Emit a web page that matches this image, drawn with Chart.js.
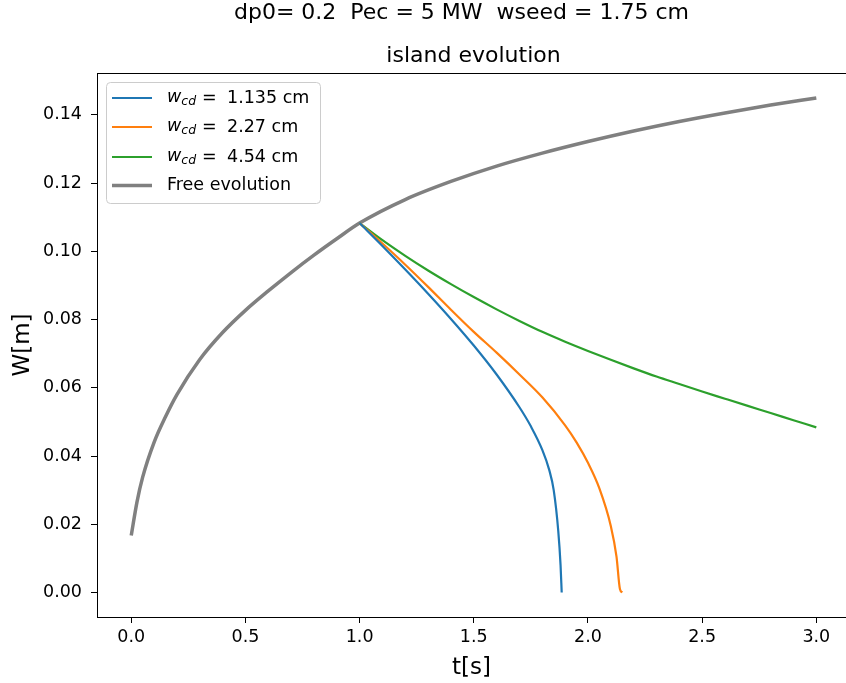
<!DOCTYPE html>
<html>
<head>
<meta charset="utf-8">
<script src="https://cdn.jsdelivr.net/npm/chart.js@4"></script>
<style>
  html, body { margin: 0; padding: 0; background: #fff; }
  #wrap { width: 846px; height: 683px; }
</style>
</head>
<body>
<div id="wrap"><canvas id="myChart" width="846" height="683"></canvas></div>
<script>
// data
const tFree = [0, 0.025, 0.05, 0.1, 0.15, 0.2, 0.3, 0.4, 0.5, 0.6, 0.7, 0.8, 0.9, 1.0, 1.2, 1.4, 1.6, 1.8, 2.0, 2.2, 2.4, 2.6, 2.8, 3.0];
const wFree = [0.0167, 0.0265, 0.0338, 0.0440, 0.0515, 0.0580, 0.0683, 0.0762, 0.0827, 0.0884, 0.0938, 0.0989, 0.1037, 0.1083, 0.1152, 0.1205, 0.1250, 0.1288, 0.1322, 0.1353, 0.1381, 0.1406, 0.1429, 0.1450];

const tBlue = [1.0, 1.1, 1.2, 1.3, 1.4, 1.5, 1.6, 1.7, 1.75, 1.8, 1.83, 1.85, 1.87, 1.88, 1.885];
const wBlue = [0.1083, 0.1016, 0.0947, 0.0876, 0.0802, 0.0724, 0.0639, 0.0543, 0.0487, 0.0418, 0.0360, 0.0300, 0.018, 0.008, 0.0];

const tOrange = [1.0, 1.1, 1.2, 1.3, 1.4, 1.5, 1.6, 1.7, 1.8, 1.9, 1.95, 2.0, 2.05, 2.1, 2.125, 2.14, 2.15];
const wOrange = [0.1083, 0.1023, 0.0961, 0.0896, 0.0829, 0.0764, 0.0703, 0.0639, 0.0572, 0.0490, 0.0440, 0.0380, 0.0305, 0.0195, 0.0105, 0.001, 0.0];

const tGreen = [1.0, 1.1, 1.2, 1.3, 1.4, 1.5, 1.6, 1.7, 1.8, 1.9, 2.0, 2.1, 2.2, 2.3, 2.4, 2.5, 2.6, 2.7, 2.8, 2.9, 3.0];
const wGreen = [0.1083, 0.1033, 0.0987, 0.0944, 0.0904, 0.0866, 0.0830, 0.0796, 0.0764, 0.0735, 0.0708, 0.0682, 0.0657, 0.0633, 0.0611, 0.0589, 0.0568, 0.0547, 0.0526, 0.0505, 0.0484];

const xTicks = [0, 0.5, 1.0, 1.5, 2.0, 2.5, 3.0];
const yTicks = [0, 0.02, 0.04, 0.06, 0.08, 0.10, 0.12, 0.14];

const legendValues = ['1.135 cm', '2.27 cm', '4.54 cm'];
const title1 = 'dp0= 0.2  Pec = 5 MW  wseed = 1.75 cm';
const title2 = 'island evolution';

const FONT = "'DejaVu Sans', sans-serif";

function pts(ts, ws) {
  return ts.map((t, i) => ({ x: t, y: ws[i] }));
}

const colors = ['#1f77b4', '#ff7f0e', '#2ca02c', '#808080'];

const data = {
  datasets: [
    { label: 'blue', data: pts(tBlue, wBlue), borderColor: colors[0], borderWidth: 2.2 },
    { label: 'orange', data: pts(tOrange, wOrange), borderColor: colors[1], borderWidth: 2.2 },
    { label: 'green', data: pts(tGreen, wGreen), borderColor: colors[2], borderWidth: 2.2 },
    { label: 'Free evolution', data: pts(tFree, wFree), borderColor: colors[3], borderWidth: 3.5 },
  ]
};

// titles, frame and legend drawn by hand (matplotlib look)
const extras = {
  id: 'extras',
  afterDraw(chart) {
    const ctx = chart.ctx;
    const a = chart.chartArea;
    ctx.save();
    // frame
    ctx.strokeStyle = '#000';
    ctx.lineWidth = 1;
    ctx.strokeRect(a.left + 0.5, a.top + 0.5, a.right - a.left + 10, a.bottom - a.top);

    // titles
    ctx.fillStyle = '#000';
    ctx.textAlign = 'center';
    ctx.textBaseline = 'alphabetic';
    ctx.font = '22px ' + FONT;
    ctx.fillText(title1, 461.5, 19);
    ctx.fillText(title2, 473.5, 62);

    // legend box
    const bx = 106.5, by = 82.5, bw = 214, bh = 121, r = 4;
    ctx.beginPath();
    ctx.moveTo(bx + r, by);
    ctx.arcTo(bx + bw, by, bx + bw, by + bh, r);
    ctx.arcTo(bx + bw, by + bh, bx, by + bh, r);
    ctx.arcTo(bx, by + bh, bx, by, r);
    ctx.arcTo(bx, by, bx + bw, by, r);
    ctx.closePath();
    ctx.fillStyle = 'rgba(255,255,255,0.8)';
    ctx.fill();
    ctx.strokeStyle = '#cccccc';
    ctx.stroke();

    const rows = [98, 127, 157, 185.5];
    ctx.textAlign = 'left';
    ctx.textBaseline = 'middle';
    rows.forEach((y, i) => {
      ctx.beginPath();
      ctx.moveTo(112, y);
      ctx.lineTo(152, y);
      ctx.strokeStyle = colors[i];
      ctx.lineWidth = i === 3 ? 3.5 : 2.2;
      ctx.stroke();
      ctx.fillStyle = '#000';
      if (i === 3) {
        ctx.font = '17.5px ' + FONT;
        ctx.fillText('Free evolution', 167, y);
      } else {
        let x = 167;
        ctx.font = 'italic 17.5px ' + FONT;
        ctx.fillText('w', x, y - 1);
        x += ctx.measureText('w').width;
        ctx.font = 'italic 12.5px ' + FONT;
        ctx.fillText('cd', x, y + 4);
        ctx.font = '17.5px ' + FONT;
        ctx.fillText('=', 202, y);
        ctx.fillText(legendValues[i], 227, y);
      }
    });
    ctx.restore();
  }
};

const config = {
  type: 'line',
  data,
  options: {
    responsive: false,
    animation: false,
    layout: { padding: { left: 0, right: 0, top: 73, bottom: 0 } },
    elements: {
      point: { radius: 0 },
      line: { cubicInterpolationMode: 'monotone', fill: false, borderCapStyle: 'butt' }
    },
    plugins: {
      legend: { display: false },
      title: { display: false },
      tooltip: { enabled: false }
    },
    scales: {
      x: {
        type: 'linear',
        min: -0.15,
        max: 3.13,
        afterBuildTicks: (s) => { s.ticks = xTicks.map(v => ({ value: v })); },
        afterFit: (s) => { s.height = 66; },
        ticks: {
          color: '#000',
          font: { family: FONT, size: 17.5 },
          padding: 4,
          maxRotation: 0,
          autoSkip: false,
          callback: (v) => Number(v).toFixed(1)
        },
        grid: { drawOnChartArea: false, drawTicks: true, tickLength: 6, tickColor: '#000', tickWidth: 1 },
        border: { color: '#000', width: 1 },
        title: {
          display: true,
          text: 't[s]',
          color: '#000',
          font: { family: FONT, size: 23 },
          padding: { top: 0, bottom: 1 }
        }
      },
      y: {
        type: 'linear',
        min: -0.0072,
        max: 0.1523,
        afterBuildTicks: (s) => { s.ticks = yTicks.map(v => ({ value: v })); },
        afterFit: (s) => { s.width = 97; },
        ticks: {
          color: '#000',
          font: { family: FONT, size: 17.5 },
          padding: 9,
          autoSkip: false,
          callback: (v) => Number(v).toFixed(2)
        },
        grid: { drawOnChartArea: false, drawTicks: true, tickLength: 6, tickColor: '#000', tickWidth: 1 },
        border: { color: '#000', width: 1 },
        title: {
          display: true,
          text: 'W[m]',
          color: '#000',
          font: { family: FONT, size: 23 },
          padding: { top: 9, bottom: 0 }
        }
      }
    }
  },
  plugins: [extras]
};

var chart = document.querySelector('#myChart');
var myChart = new Chart(chart, config);
</script>
</body>
</html>
